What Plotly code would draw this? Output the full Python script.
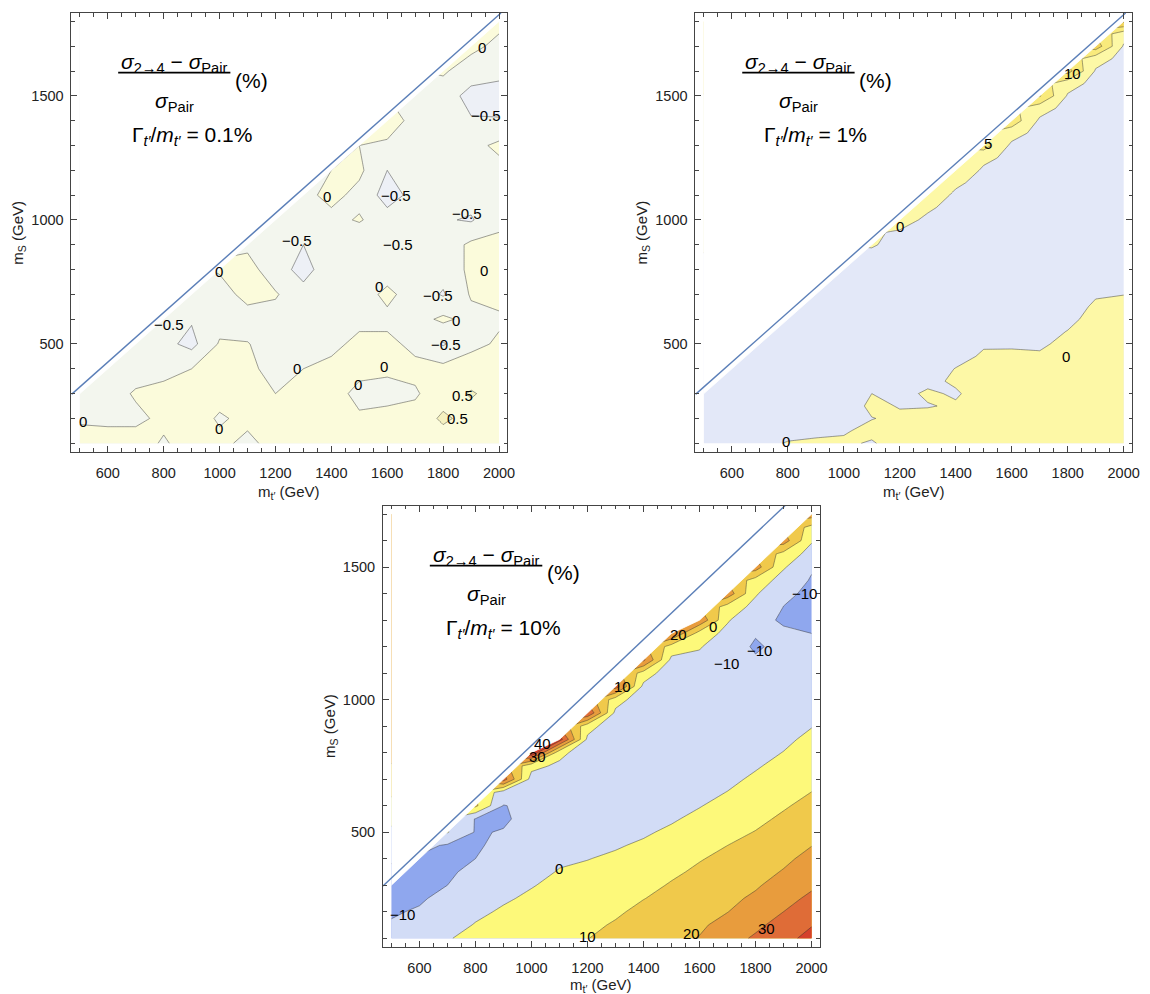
import numpy as np
import plotly.graph_objects as go

FONT = "Liberation Sans, Arial, Helvetica, sans-serif"
W, H = 1150, 994
M_TOP = 173.0          # threshold line  m_S = m_t' - m_t
MS0 = 100              # first m_S grid row (GeV)

MTP = [500, 600, 700, 800, 900, 1000, 1100, 1200, 1300, 1400, 1500, 1600, 1700, 1800, 1900, 2000]
X_TICKS = [600, 800, 1000, 1200, 1400, 1600, 1800, 2000]
Y_TICKS = [500, 1000, 1500]

# ---------------- panel 1 : Gamma/m = 0.1 %  (m_S step 100 GeV, one list per m_t' column)
P1_STEP = 100
P1_COLS = [
    [0.15, -0.05, -0.2],
    [0.2, -0.1, -0.2, -0.25],
    [0.2, -0.1, 0.05, -0.2, -0.25],
    [-0.05, 0.1, 0.15, -0.15, -0.35, -0.3],
    [0.2, 0.2, 0.15, 0, -0.65, -0.45, -0.2],
    [0.1, -0.05, 0.15, 0.1, 0.05, -0.2, -0.2, 0.05],
    [-0.1, 0.1, 0.15, 0.1, 0.02, -0.2, 0.15, 0.2, -0.1],
    [0.15, 0.15, 0, -0.15, -0.2, -0.2, 0.05, -0.3, -0.3, -0.2],
    [0.2, 0.2, 0.15, 0, -0.2, -0.25, -0.35, -0.65, -0.5, -0.25, -0.15],
    [0.2, 0.2, 0.15, 0.1, -0.1, -0.2, -0.2, -0.25, -0.3, -0.15, 0.15, 0],
    [0.2, 0.05, -0.1, 0.1, 0.1, -0.1, -0.2, -0.3, -0.45, 0.05, -0.15, 0.1, 0],
    [0.2, 0.1, -0.1, 0.05, 0.1, -0.1, 0.1, -0.2, -0.35, -0.3, -0.7, -0.5, -0.05, 0.15],
    [0.2, 0.15, -0.05, 0.1, -0.1, -0.2, -0.2, -0.25, -0.3, -0.3, -0.35, -0.2, -0.05, -0.1, -0.15],
    [0.2, 0.6, 0.25, 0.15, -0.55, 0.1, -0.55, -0.3, -0.3, -0.45, -0.3, -0.25, -0.2, -0.4, -0.2, 0.05],
    [0.2, 0.3, 0.55, 0.2, -0.1, -0.15, 0.05, 0.1, 0.1, -0.55, -0.3, -0.2, -0.15, -0.45, -0.7, -0.2, 0.1],
    [0.2, 0.3, 0.3, 0.15, 0.05, -0.05, 0.1, 0.15, 0.1, -0.1, -0.2, -0.15, 0.1, -0.45, -0.8, -0.3, -0.1, 0.1],
]
P1_LEVELS = (-0.5, 0.5, 0.5)
P1_COLORS = ["#edf0f6", "#f3f6ee", "#fbfbdb", "#f5f1c0"]
P1_LAB_X = [1940, 1952, 1383, 1632, 1886, 1276, 1640, 998, 1946, 1572, 1780, 1845, 1809, 820, 1276, 1590, 1495, 1869, 1851, 512, 998]
P1_LAB_Y = [1697, 1422, 1093, 1100, 1026, 918, 900, 791, 798, 730, 697, 596, 496, 577, 402, 411, 335, 294, 201, 187, 160]
P1_LAB_T = ["0", "−0.5", "0", "−0.5", "−0.5", "−0.5", "−0.5", "0", "0", "0", "−0.5", "0", "−0.5", "−0.5", "0", "0", "0", "0.5", "0.5", "0", "0"]
P1_WIDTH = "0.1%"

# ---------------- panel 2 : Gamma/m = 1 %  (m_S step 50 GeV)
P2_STEP = 50
P2_COLS = [
    [-1.5, -1.8, -2, -2, -1.8],
    [-1.2, -1.7, -2, -2.2, -2.2, -2.1, -1.8],
    [-0.8, -1.5, -2, -2.3, -2.4, -2.4, -2.3, -2.1, -1.8],
    [0.2, -1, -1.8, -2.2, -2.4, -2.5, -2.5, -2.4, -2.3, -2.1, -1.8],
    [0.6, -0.8, -1.7, -2.2, -2.5, -2.6, -2.6, -2.5, -2.4, -2.3, -2.2, -2, -1.7],
    [0.5, -0.3, -1.5, -2.2, -2.5, -2.6, -2.7, -2.7, -2.6, -2.5, -2.4, -2.3, -2.2, -2, -1.5],
    [-0.3, 0.8, -0.1, 0.8, 0, -1, -1.8, -2.2, -2.5, -2.6, -2.6, -2.6, -2.5, -2.4, -2.2, -1.5, 0.5],
    [1.5, 1.3, 0.6, -0.2, -1, -1.6, -2, -2.3, -2.4, -2.5, -2.5, -2.5, -2.4, -2.3, -2.2, -2, -1.8, -0.5, 2],
    [2, 1.8, 1.2, -0.2, 0.5, -0.8, -1.5, -2, -2.2, -2.4, -2.5, -2.5, -2.5, -2.4, -2.3, -2.2, -2, -1.8, -1, 0.8, 3.5],
    [2.5, 2.2, 1.5, 0.4, -0.4, 0.5, 0.1, -1, -1.6, -2, -2.3, -2.4, -2.5, -2.5, -2.5, -2.4, -2.3, -2.2, -2, -1.8, -1, 1, 5],
    [3, 2.8, 2.5, 2, 1.6, 1.2, 0.8, 0.4, -0.3, -1, -1.6, -2, -2.2, -2.4, -2.5, -2.5, -2.4, -2.3, -2.2, -2.1, -2, -1.8, -1, 1.5, 7],
    [3.5, 3.2, 3, 2.6, 2.2, 1.8, 1.3, 0.6, -0.4, -1.1, -1.6, -2, -2.2, -2.4, -2.5, -2.5, -2.5, -2.4, -2.3, -2.2, -2.1, -2, -1.9, -1.6, -1, 2, 8],
    [3.8, 3.6, 3.3, 3, 2.6, 2.1, 1.5, 0.5, -0.6, -1.2, -1.7, -2, -2.2, -2.3, -2.4, -2.4, -2.4, -2.3, -2.3, -2.2, -2.2, -2.1, -2, -1.9, -1.8, -1.6, -0.8, 2, 10.5],
    [4, 3.9, 3.7, 3.5, 3.2, 2.8, 2.3, 1.7, 1, 0.1, -0.8, -1.4, -1.8, -2, -2.2, -2.3, -2.3, -2.3, -2.3, -2.2, -2.2, -2.1, -2.1, -2, -1.9, -1.8, -1.7, -1.5, -0.5, 2, 12],
    [4.2, 4, 3.8, 3.6, 3.3, 3, 2.7, 2.4, 2, 1.6, 1.1, 0.5, -0.3, -1, -1.5, -1.8, -2, -2.1, -2.2, -2.2, -2.2, -2.1, -2.1, -2, -2, -1.9, -1.8, -1.7, -1.6, -1.4, -0.5, 2, 13],
    [4.4, 4.2, 4, 3.8, 3.5, 3.2, 2.9, 2.6, 2.3, 1.9, 1.4, 0.8, -0.05, -0.8, -1.3, -1.6, -1.8, -2, -2.1, -2.1, -2.1, -2.1, -2, -2, -2, -1.9, -1.9, -1.8, -1.7, -1.6, -1.5, -1.4, -0.5, 2, 16],
]
P2_LEVELS = (0, 15, 5)
P2_COLORS = ["#e3e8f8", "#fdf8a6", "#f9ea7c", "#f1d35a", "#e8b948"]
P2_LAB_X = [1817, 1515, 1202, 1793, 793]
P2_LAB_Y = [1591, 1308, 972, 449, 106]
P2_LAB_T = ["10", "5", "0", "0", "0"]
P2_WIDTH = "1%"

# ---------------- panel 3 : Gamma/m = 10 %  (m_S step 50 GeV)
P3_STEP = 50
P3_COLS = [
    [-8, -9.3, -10.8, -11.5, -11.5],
    [-4.1, -6.7, -9.2, -11, -12, -12, -11],
    [-0.6, -2.9, -5.3, -7.6, -10, -11.5, -12, -11, 0.5],
    [2.5, 0.4, -1.5, -3.5, -5.5, -7.5, -10, -11, -10.6, -10.4, 12],
    [3.6, 2.2, 0.9, -0.9, -2.6, -4.4, -6.1, -7.9, -9.6, -11, -10.3, -5, 35],
    [5.6, 4.1, 2.7, 1.2, -0.4, -2, -3.5, -5, -6.3, -7.5, -8, -7.5, -4, 3, 50],
    [7.6, 6.2, 4.7, 3.3, 1.8, 0.4, -1, -2.5, -3.8, -5, -6, -6.5, -5.5, -2, 3, 45],
    [9.8, 8.2, 6.5, 4.8, 3.2, 1.5, -0.2, -1.8, -3.2, -4.5, -5.5, -6.2, -6.8, -7, -6, -2, 4, 40],
    [12.7, 10.8, 8.8, 6.9, 5, 3.1, 1.2, -0.7, -2.3, -3.8, -5, -6, -6.8, -7.2, -7.5, -7.5, -6.5, -2.5, 5, 35],
    [16.3, 14.1, 12, 9.8, 7.6, 5.4, 3.3, 1.1, -1, -2.8, -4.3, -5.5, -6.5, -7.2, -7.6, -7.8, -8, -8, -7, -2.5, 6, 32],
    [17.5, 15.8, 14.1, 12.4, 10.7, 8.6, 6.2, 3.8, 1.4, -0.9, -2.8, -4.3, -5.5, -6.5, -7.2, -7.7, -8, -8.2, -8.3, -8.3, -7, -2.5, 6, 30],
    [20.4, 18.6, 16.8, 15, 13.2, 11.4, 9.5, 7, 4.5, 2, -0.4, -2.3, -3.8, -5, -6, -6.8, -7.4, -7.8, -8.1, -8.3, -7.5, -3, 1, 6, 28],
    [26.2, 23, 19.8, 17.8, 15.9, 13.9, 12, 10, 7.6, 5.1, 2.7, 0.2, -1.8, -3.4, -4.8, -6, -7, -7.7, -8.2, -8.5, -8.8, -9.3, -8, -3, 1, 6, 26],
    [31.3, 28, 24.8, 21.6, 18.9, 16.8, 14.6, 12.4, 10.3, 8, 5.8, 3.6, 1.3, -0.8, -2.5, -4, -5.3, -6.5, -7.4, -8.2, -8.8, -9.6, -10.5, -9.7, -9, -3, 1, 6, 25],
    [37, 33.5, 30, 26.9, 23.8, 20.6, 18.2, 15.9, 13.6, 11.4, 9.1, 6.9, 4.7, 2.4, 0.2, -1.6, -3.2, -4.6, -5.8, -6.8, -7.6, -8.3, -8.9, -9.5, -10.4, -10.1, -8.5, -4, 1, 7, 25],
    [43, 39.5, 35.7, 31.9, 28.5, 25.6, 22.6, 19.8, 17.4, 14.9, 12.5, 10.1, 8, 5.9, 3.8, 1.8, -0.3, -2, -3.5, -4.8, -6, -7, -8, -10, -11, -11.5, -11.5, -10.8, -9, -4, 1, 7, 25],
]
P3_LEVELS = (-10, 40, 10)
P3_COLORS = ["#8fa7ee", "#d2dcf6", "#fdf97a", "#f0c94b", "#e89c3d", "#df6c37", "#d5412c"]
P3_LAB_X = [540, 1100, 1200, 1573, 1839, 1525, 1649, 1325, 1975, 1815, 1697, 1041, 1023]
P3_LAB_Y = [188, 364, 106, 118, 137, 1244, 1275, 1049, 1401, 1187, 1137, 835, 785]
P3_LAB_T = ["−10", "0", "10", "20", "30", "20", "0", "10", "−10", "−10", "−10", "40", "30"]
P3_WIDTH = "10%"

# ---------------- layout of the three frames (paper fractions)
PANELS = [
    dict(cols=P1_COLS, step=P1_STEP, lev=P1_LEVELS, colors=P1_COLORS, lx=P1_LAB_X, ly=P1_LAB_Y, lt=P1_LAB_T,
         width=P1_WIDTH, xd=[0.0626, 0.4443], yd=[0.5456, 0.9869], yr=[66, 1834], ax="", xt=-0.094),
    dict(cols=P2_COLS, step=P2_STEP, lev=P2_LEVELS, colors=P2_COLORS, lx=P2_LAB_X, ly=P2_LAB_Y, lt=P2_LAB_T,
         width=P2_WIDTH, xd=[0.6090, 0.9913], yd=[0.5456, 0.9869], yr=[66, 1834], ax="2", xt=-0.094),
    dict(cols=P3_COLS, step=P3_STEP, lev=P3_LEVELS, colors=P3_COLORS, lx=P3_LAB_X, ly=P3_LAB_Y, lt=P3_LAB_T,
         width=P3_WIDTH, xd=[0.3354, 0.7180], yd=[0.0476, 0.4913], yr=[68, 1732], ax="3", xt=-0.087),
]
XR = [470, 2030]

fig = go.Figure()
annotations = []
shapes = []

for p in PANELS:
    xa, ya = "x" + p["ax"], "y" + p["ax"]
    cols, step = p["cols"], p["step"]
    tops = [MS0 + step * (len(c) - 1) for c in cols]
    ms = np.arange(MS0, max(tops) + step / 2, step)
    z = np.full((len(ms), len(cols)), np.nan)
    for j, c in enumerate(cols):
        z[:len(c), j] = c
    n = len(p["colors"])
    cscale = [[i / (n - 1), c] for i, c in enumerate(p["colors"])]
    s, e, d = p["lev"]
    fig.add_trace(go.Contour(
        x=MTP, y=ms, z=z, xaxis=xa, yaxis=ya, showscale=False, connectgaps=True,
        contours=dict(start=s, end=e, size=d, coloring="fill", showlines=True),
        colorscale=cscale, line=dict(width=0.6, color="rgba(45,45,45,0.75)", smoothing=0),
        hoverinfo="skip"))
    # white region above the computed grid (kinematically excluded)
    fig.add_trace(go.Scatter(
        x=MTP + [MTP[-1], MTP[0]], y=tops + [p["yr"][1] + 50, p["yr"][1] + 50],
        xaxis=xa, yaxis=ya, mode="lines", fill="toself", fillcolor="white",
        line=dict(color="white", width=0.8), hoverinfo="skip"))
    # threshold line m_S = m_t' - m_t
    fig.add_trace(go.Scatter(
        x=[XR[0], p["yr"][1] + M_TOP], y=[XR[0] - M_TOP, p["yr"][1]],
        xaxis=xa, yaxis=ya, mode="lines", line=dict(color="#5b7fb8", width=1.4), hoverinfo="skip"))

    # contour labels
    for x, y, t in zip(p["lx"], p["ly"], p["lt"]):
        annotations.append(dict(x=x, y=y, xref=xa, yref=ya, text=t, showarrow=False,
                                xanchor="center", yanchor="middle",
                                font=dict(family=FONT, size=15, color="black")))

    xdom, ydom = xa + " domain", ya + " domain"
    big = dict(family=FONT, size=21, color="black")
    cm = dict(xref=xdom, yref=ydom, showarrow=False, xanchor="center", yanchor="middle")
    annotations += [
        dict(cm, x=0.2358, y=0.8853, font=big,
             text="<i>σ</i><sub>2→4</sub> − <i>σ</i><sub>Pair</sub>"),
        dict(cm, x=0.4123, y=0.8473, font=big, text="(%)"),
        dict(cm, x=0.2369, y=0.7978, font=big, text="<i>σ</i><sub>Pair</sub>"),
        dict(cm, x=0.2756, y=0.7196, font=big,
             text="Γ<sub><i>t′</i></sub>/<i>m</i><sub><i>t′</i></sub> = " + p["width"]),
        dict(cm, x=0.5, y=p["xt"], font=dict(family=FONT, size=15, color="#222"),
             text="m<sub>t′</sub> (GeV)"),
        dict(cm, x=-0.122, y=0.5, textangle=-90, font=dict(family=FONT, size=15, color="#222"),
             text="m<sub>S</sub> (GeV)"),
    ]
    shapes.append(dict(type="line", xref=xdom, yref=ydom, x0=0.1071, x1=0.3645, y0=0.8639, y1=0.8639,
                       line=dict(color="black", width=1.8)))

    common = dict(showline=True, linecolor="#444", linewidth=1, mirror="ticks", ticks="inside",
                  ticklen=6, tickwidth=0.8, tickcolor="#444", showgrid=False, zeroline=False,
                  tickfont=dict(family=FONT, size=14.5, color="#222"))
    xkey = "xaxis" + p["ax"]
    ykey = "yaxis" + p["ax"]
    fig.update_layout(**{
        xkey: dict(common, domain=p["xd"], range=XR, anchor=ya, tickvals=X_TICKS, ticklabelstandoff=8,
                   minor=dict(ticks="inside", ticklen=3.5, tickwidth=0.7, tickcolor="#444", dtick=50, tick0=0)),
        ykey: dict(common, domain=p["yd"], range=p["yr"], anchor=xa, tickvals=Y_TICKS, ticklabelstandoff=4,
                   minor=dict(ticks="inside", ticklen=3.5, tickwidth=0.7, tickcolor="#444", dtick=100, tick0=0)),
    })

fig.update_layout(width=W, height=H, margin=dict(l=0, r=0, t=0, b=0),
                  paper_bgcolor="white", plot_bgcolor="white", showlegend=False,
                  annotations=annotations, shapes=shapes)

fig.write_html("out.html", config={"displayModeBar": False},
               post_script="document.body.style.margin='0px';document.body.style.overflow='hidden';")
